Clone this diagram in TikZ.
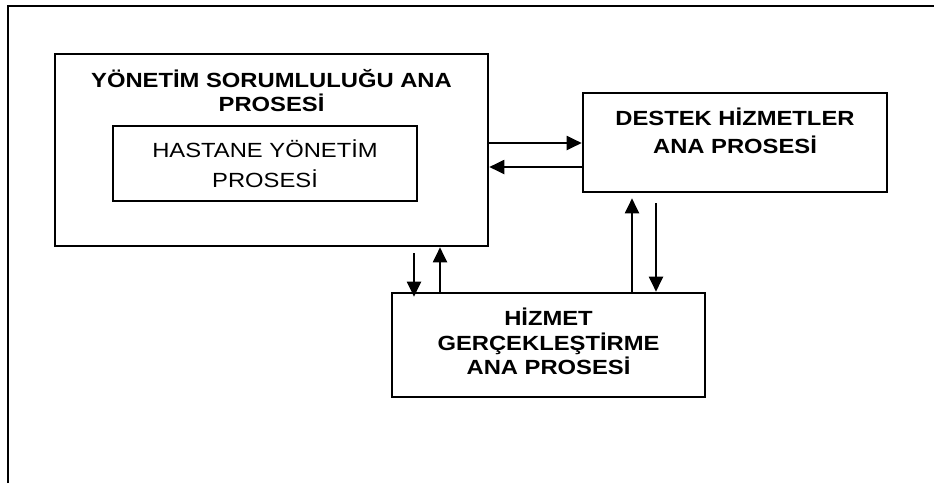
\documentclass[tikz,border=0pt]{standalone}
\usepackage{fontspec}
\setmainfont{Liberation Sans}[FakeStretch=1.16]
\usetikzlibrary{arrows.meta}
\tikzset{
  box/.style={draw, line width=2.6pt, inner sep=0pt},
  inbox/.style={draw, line width=1.4pt, align=center,
    font=\fontsize{20.5}{30}\selectfont},
  ttl/.style={anchor=base, align=center, inner sep=0pt,
    font=\fontsize{20.5}{24.5}\selectfont\bfseries},
  arr/.style={line width=2pt, -{Triangle[length=15pt,width=14pt]}}
}
\begin{document}
\begin{tikzpicture}[x=1pt,y=-1pt]
  \useasboundingbox (0,0) rectangle (934,483);
  \draw[line width=2.6pt] (8,483)--(8,6)--(934,6);
  \node[box, minimum width=433pt, minimum height=192pt] (ys) at (271.5,150) {};
  \node[ttl] (ystxt) at ([yshift=-59pt]ys.north) {YÖNETİM SORUMLULUĞU ANA\\PROSESİ};
  \node[inbox, minimum width=304pt, minimum height=75pt] (hast) at (265,163.5) {HASTANE YÖNETİM\\PROSESİ};
  \node[box, minimum width=304pt, minimum height=99pt] (dst) at (735,142.5) {};
  \node[ttl, font=\fontsize{20.5}{28}\selectfont\bfseries] (dsttxt) at ([yshift=-62pt]dst.north) {DESTEK HİZMETLER\\ANA PROSESİ};
  \node[box, minimum width=313pt, minimum height=104pt] (hiz) at (548.5,345) {};
  \node[ttl] (hiztxt) at ([yshift=-83pt]hiz.north) {HİZMET\\GERÇEKLEŞTİRME\\ANA PROSESİ};
  \draw[arr] (ys.east |- 0,143) -- (dst.west |- 0,143);
  \draw[arr] (dst.west |- 0,167) -- (ys.east |- 0,167);
  \draw[arr, shorten >=5pt] (632,0 |- hiz.north) -- (632,0 |- dst.south);
  \draw[arr, shorten <=10pt] (656,0 |- dst.south) -- (656,0 |- hiz.north);
  \draw[arr, shorten <=6pt, shorten >=-5pt] (414,0 |- ys.south) -- (414,0 |- hiz.north);
  \draw[arr] (440,0 |- hiz.north) -- (440,0 |- ys.south);
\end{tikzpicture}
\end{document}
